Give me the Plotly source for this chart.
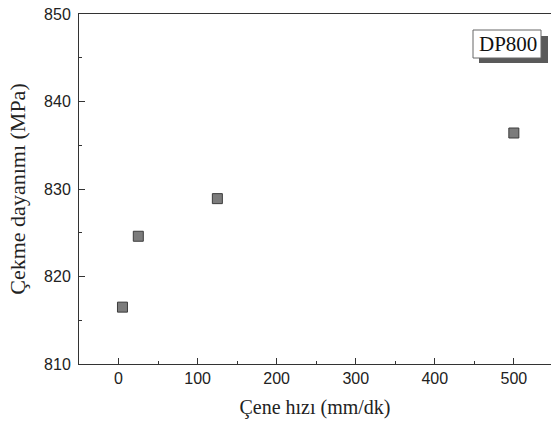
import plotly.graph_objects as go

# Data
speed = [5, 25, 125, 500]                 # Çene hızı (mm/dk)
strength = [816.5, 824.6, 828.9, 836.4]   # Çekme dayanımı (MPa)
series_name = "DP800"

W, H = 551, 430
ML, MR, MT, MB = 79, 0, 14, 66

fig = go.Figure()
fig.add_trace(go.Scatter(
    x=speed, y=strength, mode="markers", name=series_name,
    marker=dict(symbol="square", size=10, color="#7c7c7c",
                line=dict(color="#3c3c3c", width=1)),
    showlegend=False,
))

pw = W - ML - MR
ph = H - MT - MB
def px(x):
    return (x - ML) / pw
def py(y):
    return 1 - (y - MT) / ph

# legend-like box with shadow
fig.add_shape(type="rect", xref="paper", yref="paper",
              x0=px(479), x1=px(548), y0=py(63), y1=py(36),
              fillcolor="#5a5a5a", line=dict(width=0), layer="above")
fig.add_shape(type="rect", xref="paper", yref="paper",
              x0=px(473), x1=px(541), y0=py(58), y1=py(30),
              fillcolor="white", line=dict(color="#666666", width=1), layer="above")
fig.add_annotation(x=px(507.5), y=py(44), xref="paper", yref="paper",
                   xanchor="center", yanchor="middle",
                   text=series_name, showarrow=False,
                   font=dict(family="Liberation Serif", size=21, color="#111111"))

fig.update_layout(
    width=W, height=H,
    margin=dict(l=ML, r=MR, t=MT, b=MB),
    paper_bgcolor="white", plot_bgcolor="white",
    font=dict(family="Liberation Sans", size=16, color="#222222"),
    xaxis=dict(
        range=[-50, 547], dtick=100, tick0=0,
        ticks="inside", ticklen=6, tickcolor="#333", tickwidth=1,
        minor=dict(dtick=50, ticks="inside", ticklen=3, tickcolor="#333"),
        showline=True, linecolor="#333", linewidth=1, mirror=True,
        showgrid=False, zeroline=False,
        title=dict(text="Çene hızı (mm/dk)",
                   font=dict(family="Liberation Serif", size=20, color="#222"),
                   standoff=13),
        tickfont=dict(size=16),
        automargin=False,
    ),
    yaxis=dict(
        range=[810, 850], dtick=10, tick0=810,
        ticks="inside", ticklen=6, tickcolor="#333", tickwidth=1,
        minor=dict(dtick=5, ticks="inside", ticklen=3, tickcolor="#333"),
        showline=True, linecolor="#333", linewidth=1,
        showgrid=False, zeroline=False,
        title=dict(text="Çekme dayanımı (MPa)",
                   font=dict(family="Liberation Serif", size=22, color="#222"),
                   standoff=12),
        tickfont=dict(size=16),
        ticklabelstandoff=4,
        ticklabeloverflow="allow",
        automargin=False,
    ),
)

fig.write_html("out.html", config={"displayModeBar": False},
               post_script="document.body.style.margin='0px';")
